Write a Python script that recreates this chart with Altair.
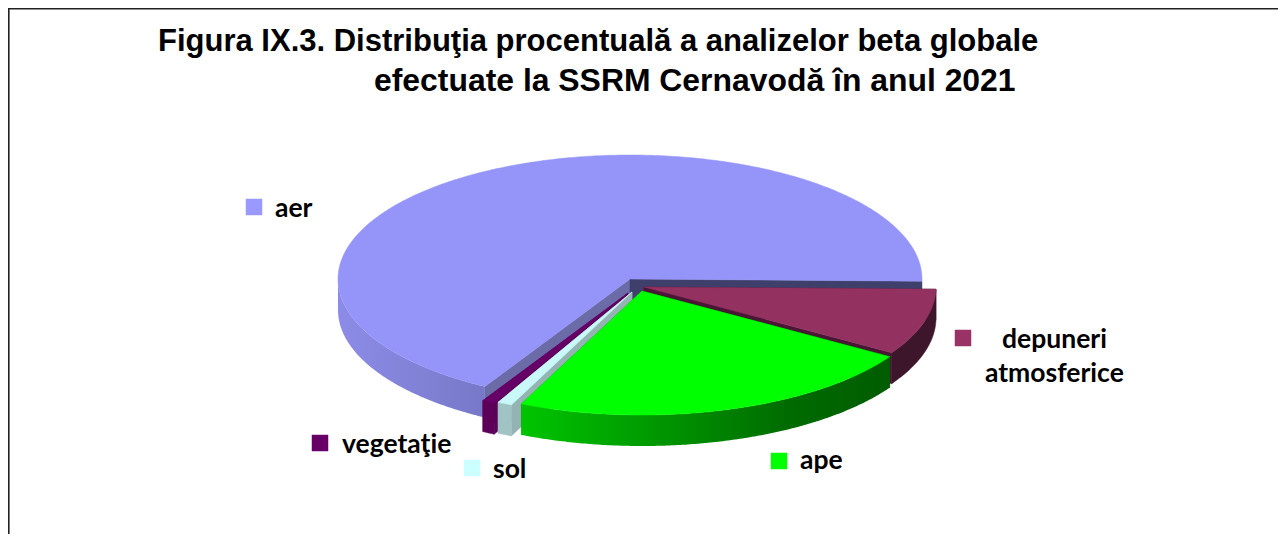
import altair as alt
import numpy as np
import pandas as pd

# Data
categories = ["depuneri atmosferice", "ape", "sol", "vegetaţie", "aer"]
shares = [8.6, 22.9, 0.8, 0.7, 67.0]

# Style / geometry of the tilted, exploded pie (page pixels)
START_DEG = 1.0
RX, RY, DEPTH = 292, 124, 31
centres = {"aer": (630, 279), "depuneri atmosferice": (644, 287), "ape": (642, 291),
           "sol": (632, 292), "vegetaţie": (628, 293)}
top_col = {"aer": "#9595f9", "depuneri atmosferice": "#933260", "ape": "#00ff00",
           "sol": "#c8f8f8", "vegetaţie": "#660066"}
legend_col = {"aer": "#9999ff", "depuneri atmosferice": "#993366", "ape": "#00ff00",
              "sol": "#ccffff", "vegetaţie": "#660066"}
cut_col = {"aer": ("#6b6ba8", "#3f3f6b"), "depuneri atmosferice": ("#4a1636", "#4a1636"),
           "ape": ("#006000", "#00a000"), "sol": ("#94b4b4", "#94b4b4"),
           "vegetaţie": ("#5a005a", "#5a005a")}


def grad(*stops):
    return alt.Gradient(gradient="linear", x1=0, x2=1, y1=0, y2=0,
                        stops=[alt.GradientStop(offset=o, color=c) for o, c in stops])


wall_fill = {"aer": grad((0, "#8c8ce8"), (1, "#7878c8")),
             "depuneri atmosferice": "#3e162c",
             "ape": grad((0, "#00c400"), (0.72, "#006c00"), (1, "#005c00")),
             "sol": "#a0c4c4", "vegetaţie": "#5c0058"}

edges = np.cumsum([0] + shares) * 3.6 + START_DEG
angles = {c: (edges[i], edges[i + 1]) for i, c in enumerate(categories)}

W, H = 1270, 526
X = alt.X("x:Q", scale=alt.Scale(domain=[8, 8 + W], nice=False, zero=False), axis=None)
Y = alt.Y("y:Q", scale=alt.Scale(domain=[8 + H, 8], nice=False, zero=False), axis=None)


def poly(xs, ys, fill):
    df = pd.DataFrame({"x": list(xs) + [xs[0]], "y": list(ys) + [ys[0]]})
    df["i"] = range(len(df))
    solid = isinstance(fill, str)
    mk = alt.Chart(df).mark_line(fill=fill, stroke=fill if solid else "transparent",
                                 strokeWidth=0.5 if solid else 0, clip=False)
    return mk.encode(x=X, y=Y, order=alt.Order("i:Q"))


def arc(c, a0, a1, drop=0):
    t = np.radians(np.linspace(a0, a1, max(4, int(abs(a1 - a0) * 2))))
    cx, cy = centres[c]
    return cx + RX * np.cos(t), cy + drop + RY * np.sin(t)


def slice_layers(c):
    a0, a1 = angles[c]
    cx, cy = centres[c]
    out = []
    # flat cut faces, visible where the wedge is pulled out of the pie
    for ang, col in ((a0, cut_col[c][0]), (a1, cut_col[c][1])):
        t = np.radians(ang)
        ex, ey = cx + RX * np.cos(t), cy + RY * np.sin(t)
        out.append(poly([cx, ex, ex, cx], [cy, ey, ey + DEPTH, cy + DEPTH], col))
    # outer rim: only the front half of the pie shows
    w0, w1 = max(a0, 0), min(a1, 180)
    if w1 > w0:
        xt, yt = arc(c, w0, w1)
        xb, yb = arc(c, w1, w0, DEPTH)
        out.append(poly(np.r_[xt, xb], np.r_[yt, yb], wall_fill[c]))
    # top face
    xt, yt = arc(c, a0, a1)
    out.append(poly(np.r_[cx, xt], np.r_[cy, yt], top_col[c]))
    return out


layers = []
for c in ["aer", "vegetaţie", "sol", "depuneri atmosferice", "ape"]:
    layers += slice_layers(c)

# Frame
frame = [
    alt.Chart(pd.DataFrame({"a": [0]})).mark_rule(color="#222222", strokeWidth=1.6).encode(
        x=alt.value(0.8), y=alt.value(0), y2=alt.value(H)),
    alt.Chart(pd.DataFrame({"a": [0]})).mark_rule(color="#222222", strokeWidth=1.6).encode(
        y=alt.value(0.8), x=alt.value(0), x2=alt.value(W)),
]

# Title lines
title_lines = ["Figura IX.3. Distribuţia procentuală a analizelor beta globale",
               "efectuate la SSRM Cernavodă în anul 2021"]
title_x = [158, 374]
title_y = [51, 91]
title_size = [31, 31.9]
texts = []
for s, tx, ty, fs in zip(title_lines, title_x, title_y, title_size):
    texts.append(alt.Chart(pd.DataFrame({"t": [s]})).mark_text(
        font="Liberation Sans", fontWeight="bold", fontSize=fs, align="left",
        baseline="alphabetic", color="#000000").encode(
        x=alt.value(tx - 8), y=alt.value(ty - 8), text="t:N"))

# Scattered legend
legend_keys = ["aer", "depuneri atmosferice", "vegetaţie", "sol", "ape"]
key_x = [254, 963, 320, 472, 779]
key_y = [207, 338, 443, 468, 461]
for k, kx, ky in zip(legend_keys, key_x, key_y):
    texts.append(alt.Chart(pd.DataFrame({"k": [k]})).mark_square(
        size=272, color=legend_col[k], opacity=1, filled=True).encode(
        x=alt.value(kx - 8), y=alt.value(ky - 8)))

label_txt = ["aer", "depuneri", "atmosferice", "vegetaţie", "sol", "ape"]
label_x = [275, 1002, 985, 342, 493, 800]
label_y = [217, 348, 382, 453, 478, 469]
for s, lx, ly in zip(label_txt, label_x, label_y):
    texts.append(alt.Chart(pd.DataFrame({"t": [s]})).mark_text(
        font="Lato", fontWeight="bold", fontSize=26.5, align="left",
        baseline="alphabetic", color="#000000").encode(
        x=alt.value(lx - 8), y=alt.value(ly - 8), text="t:N"))

chart = alt.layer(*layers, *frame, *texts).properties(
    width=W, height=H, padding=0, background="white",
    autosize=alt.AutoSizeParams(type="none"),
).configure_view(stroke=None)

chart.save("out.html", embed_options={"renderer": "svg", "actions": False})
